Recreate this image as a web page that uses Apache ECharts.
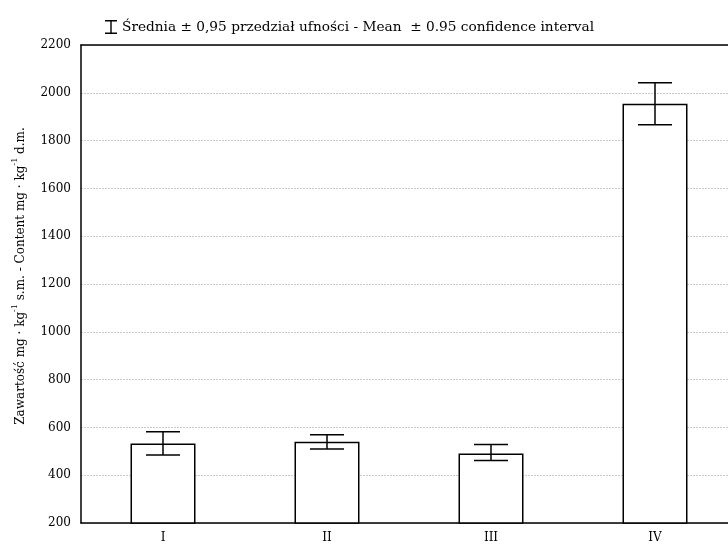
<!DOCTYPE html>
<html>
<head>
<meta charset="utf-8">
<script src="https://cdn.jsdelivr.net/npm/echarts@6/dist/echarts.min.js"></script>
<style>html,body{margin:0;padding:0;background:#fff}#c{width:728px;height:549px}</style>
</head>
<body>
<div id="c"></div>
<script>
const categories = ['I', 'II', 'III', 'IV'];
const means = [533, 540, 491, 1954];
const lowerCI = [484, 510, 462, 1866];
const upperCI = [582, 569, 528, 2042];
const yTicks = { min: 200, max: 2200, interval: 200 };
const legendText = 'Średnia ± 0,95 przedział ufności - Mean  ± 0.95 confidence interval';

const FONT = '"DejaVu Serif", "Liberation Serif", serif';
const chart = echarts.init(document.getElementById('c'), null, { renderer: 'canvas' });

const errData = categories.map((c, i) => [i, lowerCI[i], upperCI[i]]);

chart.setOption({
  animation: false,
  backgroundColor: '#fff',
  textStyle: { fontFamily: FONT, color: '#000' },
  grid: { left: 81, top: 45, width: 656, height: 478, containLabel: false, outerBoundsMode: 'none' },
  legend: {
    left: 105, top: 20, padding: 0,
    itemWidth: 12, itemHeight: 14,
    data: [{ name: legendText, icon: 'path://M0,0H12V1.5H0Z M5.3,0H6.7V14H5.3Z M0,12.5H12V14H0Z', itemStyle: { color: '#000' } }],
    textStyle: { fontFamily: FONT, fontSize: 13.7, color: '#000' },
    selectedMode: false
  },
  xAxis: [{
    type: 'category', data: categories, position: 'bottom',
    axisLine: { lineStyle: { color: '#000', width: 1.5 } },
    axisTick: { inside: true, alignWithLabel: true, length: 4, lineStyle: { color: '#000' } },
    axisLabel: { fontFamily: FONT, fontSize: 12, color: '#000', margin: 9 },
    splitLine: { show: false }
  }, {
    type: 'category', data: categories, position: 'top',
    axisLine: { lineStyle: { color: '#000', width: 1.5 } },
    axisTick: { inside: true, alignWithLabel: true, length: 4, lineStyle: { color: '#000' } },
    axisLabel: { show: false }
  }],
  yAxis: {
    type: 'value', min: yTicks.min, max: yTicks.max, interval: yTicks.interval,
    name: '{n|Zawartość mg · kg}{s|-1}{n| s.m. - Content mg · kg}{s|-1}{n| d.m.}',
    nameLocation: 'middle', nameGap: 54, nameRotate: 90,
    nameTextStyle: {
      padding: [0, 0, 0, 16],
      rich: {
        n: { fontFamily: FONT, fontSize: 12, color: '#000', lineHeight: 16, verticalAlign: 'bottom' },
        s: { fontFamily: FONT, fontSize: 8, color: '#000', lineHeight: 16, verticalAlign: 'top' }
      }
    },
    axisLine: { show: true, lineStyle: { color: '#000', width: 1.5 } },
    axisTick: { show: false },
    axisLabel: { fontFamily: FONT, fontSize: 12, color: '#000', margin: 10, formatter: v => String(v) },
    splitLine: { show: true, lineStyle: { color: '#c8c8c8', type: [2, 1], width: 1 } }
  },
  series: [{
    type: 'bar', name: 'mean', data: means, barWidth: 65,
    itemStyle: { color: '#fff', borderColor: '#000', borderWidth: 1.5 },
    z: 2
  }, {
    type: 'custom', name: legendText, data: errData, z: 3,
    itemStyle: { color: '#000' },
    renderItem: function (params, api) {
      const i = api.value(0);
      const lo = api.coord([i, api.value(1)]);
      const hi = api.coord([i, api.value(2)]);
      const hw = 17;
      const st = { stroke: '#000', lineWidth: 1.5 };
      return {
        type: 'group',
        children: [
          { type: 'line', shape: { x1: lo[0], y1: lo[1], x2: hi[0], y2: hi[1] }, style: st },
          { type: 'line', shape: { x1: lo[0] - hw, y1: lo[1], x2: lo[0] + hw, y2: lo[1] }, style: st },
          { type: 'line', shape: { x1: hi[0] - hw, y1: hi[1], x2: hi[0] + hw, y2: hi[1] }, style: st }
        ]
      };
    }
  }]
});
</script>
</body>
</html>
